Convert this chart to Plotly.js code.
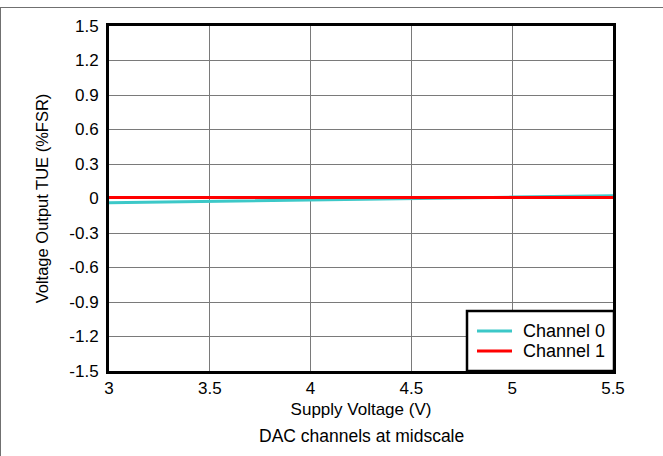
<!DOCTYPE html>
<html>
<head>
<meta charset="utf-8">
<script src="https://cdn.plot.ly/plotly-3.0.1.min.js"></script>
<style>
  html, body { margin: 0; padding: 0; background: #fff; }
  #chart { width: 663px; height: 456px; }
</style>
</head>
<body>
<div id="chart"></div>
<script>
// Data
const supplyVoltage = [3.0, 3.5, 4.0, 4.5, 5.0, 5.5];
const channel0TUE = [-0.038, -0.024, -0.011, 0.000, 0.012, 0.024];
const channel1TUE = [0.008, 0.008, 0.008, 0.008, 0.008, 0.008];
const seriesNames = ["Channel 0", "Channel 1"];
const seriesColors = ["#3cc8c8", "#ff0000"];
const xTicks = [3, 3.5, 4, 4.5, 5, 5.5];
const yTicks = [-1.5, -1.2, -0.9, -0.6, -0.3, 0, 0.3, 0.6, 0.9, 1.2, 1.5];
const yTickText = ["-1.5", "-1.2", "-0.9", "-0.6", "-0.3", "0", "0.3", "0.6", "0.9", "1.2", "1.5"];
const xTickText = ["3", "3.5", "4", "4.5", "5", "5.5"];

const FONT = "Liberation Sans, Arial, sans-serif";
const W = 663, H = 456;
const L = 109, R = 50, T = 26, B = 85;
const pw = W - L - R, ph = H - T - B;
const px = (p) => (p - L) / pw;          // pixel x -> paper x
const py = (p) => (H - B - p) / ph;      // pixel y -> paper y

const traces = [
  { x: supplyVoltage, y: channel0TUE, name: seriesNames[0], mode: "lines",
    line: { color: seriesColors[0], width: 3 } },
  { x: supplyVoltage, y: channel1TUE, name: seriesNames[1], mode: "lines",
    line: { color: seriesColors[1], width: 3 } }
];

// Legend box drawn in paper coordinates (compact, like the reference)
const legBox = { x0: 467, x1: 614, y0: 311, y1: 371 };
const legRows = [331, 351];
const legShapes = [
  { type: "rect", xref: "paper", yref: "paper",
    x0: px(legBox.x0), x1: px(legBox.x1), y0: py(legBox.y1), y1: py(legBox.y0),
    fillcolor: "#ffffff", line: { color: "#000", width: 2.5 }, layer: "above" }
];
const legAnn = [];
seriesNames.forEach((name, i) => {
  legShapes.push({ type: "line", xref: "paper", yref: "paper",
    x0: px(477), x1: px(512), y0: py(legRows[i]), y1: py(legRows[i]),
    line: { color: seriesColors[i], width: 3 }, layer: "above" });
  legAnn.push({ text: name, xref: "paper", yref: "paper",
    x: px(521), y: py(legRows[i]), xanchor: "left", yanchor: "middle", showarrow: false,
    font: { family: FONT, size: 18, color: "#000" } });
});

const layout = {
  width: W, height: H,
  margin: { l: L, r: R, t: T, b: B, pad: 0 },
  paper_bgcolor: "#ffffff",
  plot_bgcolor: "#ffffff",
  font: { family: FONT, size: 17, color: "#000" },
  showlegend: false,
  xaxis: {
    range: [3, 5.5],
    tickvals: xTicks, ticktext: xTickText,
    showgrid: true, gridcolor: "#7a7a7a", gridwidth: 1,
    showline: true, linecolor: "#000", linewidth: 3, mirror: true,
    ticks: "", zeroline: false, ticklabelstandoff: 0,
    tickfont: { family: FONT, size: 17, color: "#000" },
    title: { text: "Supply Voltage (V)", font: { family: FONT, size: 17, color: "#000" }, standoff: 6 }
  },
  yaxis: {
    range: [-1.5, 1.5],
    tickvals: yTicks, ticktext: yTickText,
    showgrid: true, gridcolor: "#7a7a7a", gridwidth: 1,
    showline: true, linecolor: "#000", linewidth: 3, mirror: true,
    ticks: "", zeroline: false, ticklabelstandoff: 4,
    tickfont: { family: FONT, size: 17, color: "#000" },
    title: { text: "Voltage Output TUE (%FSR)", font: { family: FONT, size: 16.5, color: "#000" }, standoff: 17 }
  },
  annotations: [
    { text: "DAC channels at midscale", xref: "paper", yref: "paper",
      x: 0.5, y: py(436), xanchor: "center", yanchor: "middle", showarrow: false,
      font: { family: FONT, size: 17.5, color: "#000" } }
  ].concat(legAnn),
  shapes: [
    { type: "line", xref: "paper", yref: "paper", x0: px(0), x1: px(663), y0: py(7.5), y1: py(7.5),
      line: { color: "#707070", width: 1 } },
    { type: "line", xref: "paper", yref: "paper", x0: px(0.5), x1: px(0.5), y0: py(7.5), y1: py(456),
      line: { color: "#707070", width: 1 } }
  ].concat(legShapes)
};

Plotly.newPlot("chart", traces, layout, { displayModeBar: false, staticPlot: true });
</script>
</body>
</html>
